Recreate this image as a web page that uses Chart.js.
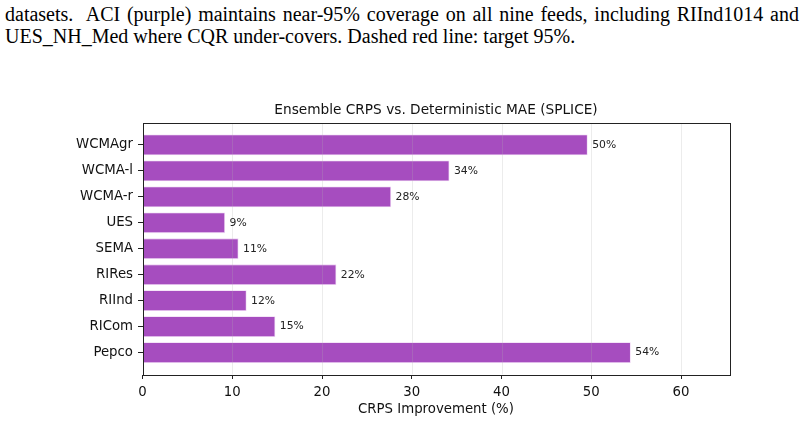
<!DOCTYPE html>
<html>
<head>
<meta charset="utf-8">
<script src="https://cdn.jsdelivr.net/npm/chart.js@4/dist/chart.umd.min.js"></script>
<style>
  html, body { margin: 0; padding: 0; background: #fff; }
  body { width: 804px; height: 423px; position: relative; overflow: hidden; }
  .cap { position: absolute; left: 5px; font-family: "Liberation Serif", "Times New Roman", serif; font-size: 20px; color: #000; white-space: nowrap; line-height: 1; }
  #l1 { top: 4px; width: 794px; text-align: justify; text-align-last: justify; white-space: normal; }
  #l2 { top: 26px; }
  #wrap { position: absolute; left: 0; top: 0; width: 804px; height: 423px; }
</style>
</head>
<body>
<div class="cap" id="l1">datasets.&nbsp; ACI (purple) maintains near-95% coverage on all nine feeds, including RIInd1014 and</div>
<div class="cap" id="l2">UES_NH_Med where CQR under-covers. Dashed red line: target 95%.</div>
<div id="wrap"><canvas id="c" width="804" height="423"></canvas></div>
<script>
const categories = ["WCMAgr", "WCMA-l", "WCMA-r", "UES", "SEMA", "RIRes", "RIInd", "RICom", "Pepco"];
const improvement = [49.6, 34.2, 27.7, 9.2, 10.7, 21.6, 11.6, 14.8, 54.4];
const xTicks = [0, 10, 20, 30, 40, 50, 60];
const chartTitle = "Ensemble CRPS vs. Deterministic MAE (SPLICE)";
const xTitle = "CRPS Improvement (%)";

const FONT = "'DejaVu Sans', sans-serif";

const boxAndGrid = {
  id: 'boxAndGrid',
  afterDatasetsDraw(chart) {
    const ctx = chart.ctx, a = chart.chartArea, xs = chart.scales.x;
    ctx.save();
    ctx.strokeStyle = 'rgba(176,176,176,0.3)';
    ctx.lineWidth = 0.8;
    xTicks.forEach(v => {
      const px = Math.round(xs.getPixelForValue(v)) + 0.5;
      ctx.beginPath(); ctx.moveTo(px, a.top); ctx.lineTo(px, a.bottom); ctx.stroke();
    });
    // value labels
    const meta = chart.getDatasetMeta(0);
    ctx.fillStyle = '#222';
    ctx.font = "10.8px " + FONT;
    ctx.textBaseline = 'middle';
    ctx.textAlign = 'left';
    meta.data.forEach((bar, i) => {
      ctx.fillText(Math.round(improvement[i]) + '%', bar.x + 4.5, bar.y);
    });
    ctx.strokeStyle = '#222';
    ctx.lineWidth = 1;
    ctx.strokeRect(Math.round(a.left) + 0.5, Math.round(a.top) + 0.5, Math.round(a.right - a.left), Math.round(a.bottom - a.top));
    // title
    ctx.fillStyle = '#111';
    ctx.font = "13.7px " + FONT;
    ctx.textAlign = 'center';
    ctx.textBaseline = 'middle';
    ctx.fillText(chartTitle, (a.left + a.right) / 2, 110);
    ctx.restore();
  }
};

new Chart(document.getElementById('c'), {
  type: 'bar',
  data: {
    datasets: [{
      data: categories.map((c, i) => ({ x: improvement[i], y: i })),
      backgroundColor: '#a64dbf',
      borderColor: 'rgba(235,205,242,0.9)',
      borderWidth: 0.8,
      barPercentage: 1,
      categoryPercentage: 0.8,
      borderSkipped: false
    }]
  },
  options: {
    indexAxis: 'y',
    responsive: false,
    animation: false,
    devicePixelRatio: 1,
    layout: { padding: { left: 0, right: 74.5, top: 123, bottom: 0 } },
    plugins: {
      legend: { display: false },
      tooltip: { enabled: false },
      title: { display: false }
    },
    scales: {
      x: {
        type: 'linear',
        min: 0,
        max: 65.4,
        afterBuildTicks: s => { s.ticks = xTicks.map(v => ({ value: v })); },
        afterFit: s => { s.height = 48.5; },
        ticks: { color: '#111', font: { family: FONT, size: 13.3 }, padding: 5.5, maxRotation: 0 },
        grid: { drawOnChartArea: false, drawTicks: true, tickLength: 4.5, tickColor: '#222', tickWidth: 1 },
        border: { display: false },
        title: { display: true, text: xTitle, color: '#111', font: { family: FONT, size: 13.3 }, padding: { top: 0, bottom: 5 } }
      },
      y: {
        type: 'linear',
        reverse: true,
        offset: false,
        min: -0.84,
        max: 8.84,
        afterBuildTicks: s => { s.ticks = categories.map((c, i) => ({ value: i })); },
        afterFit: s => { s.width = 142.5; },
        ticks: { color: '#111', font: { family: FONT, size: 13.3 }, padding: 5, callback: v => categories[v] },
        grid: { offset: false, drawOnChartArea: false, drawTicks: true, tickLength: 4.5, tickColor: '#222', tickWidth: 1 },
        border: { display: false }
      }
    }
  },
  plugins: [boxAndGrid]
});
</script>
</body>
</html>
